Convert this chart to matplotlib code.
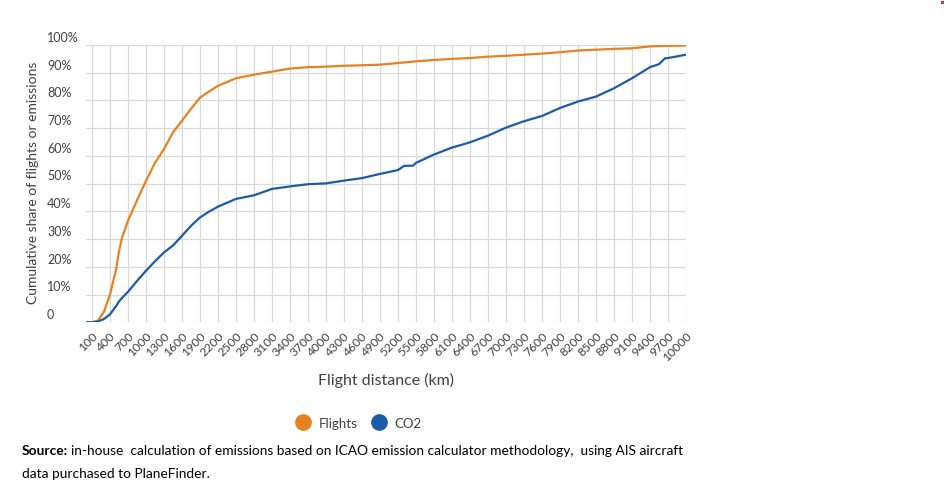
import matplotlib
matplotlib.use("Agg")
import matplotlib.pyplot as plt
from matplotlib.lines import Line2D
from matplotlib.patches import Rectangle
import matplotlib.transforms as mtransforms

plt.rcParams['font.family'] = ['Lato', 'DejaVu Sans']

# Data
distance_km = [0, 100, 200, 300, 400, 500, 550, 600, 700, 850, 1000, 1150, 1300, 1450,
               1600, 1750, 1900, 2050, 2200, 2500, 2800, 3100, 3400, 3700, 4000, 4300,
               4600, 4900, 5200, 5300, 5450, 5500, 5800, 6100, 6400, 6700, 7000, 7300,
               7600, 7900, 8200, 8500, 8800, 9100, 9400, 9550, 9650, 9700, 10000]
flights_pct = [0, 0, 0.6, 3.8, 10, 19, 25.5, 30.5, 36.6, 44, 51, 57.5, 62.5, 68.5,
               72.7, 77, 81, 83.2, 85.3, 88, 89.3, 90.4, 91.5, 92, 92.2, 92.5,
               92.7, 92.9, 93.5, 93.7, 94, 94.1, 94.6, 95, 95.3, 95.8, 96.1, 96.5,
               96.9, 97.4, 98, 98.3, 98.6, 98.8, 99.5, 99.6, 99.7, 99.7, 99.8]
co2_pct = [0, 0, 0.3, 1.2, 2.9, 5.8, 7.5, 8.8, 11, 14.9, 18.6, 22, 25.2, 27.7,
           31.2, 34.8, 37.8, 39.9, 41.7, 44.5, 45.8, 48.1, 49, 49.8, 50.1, 51.1,
           52, 53.5, 54.9, 56.4, 56.5, 57.5, 60.5, 63, 64.9, 67.3, 70.2, 72.5,
           74.4, 77.3, 79.6, 81.4, 84.4, 88, 92, 93.1, 95.2, 95.3, 96.5]
x_ticks = list(range(100, 10001, 300))
y_ticks = [0, 10, 20, 30, 40, 50, 60, 70, 80, 90, 100]
y_labels = ['0', '10%', '20%', '30%', '40%', '50%', '60%', '70%', '80%', '90%', '100%']
series_names = ['Flights', 'CO2']

ORANGE = '#E8811F'
BLUE = '#1A5CA8'
GRID = '#D9D9D9'
TXT = '#404040'

W, H = 945, 485
fig = plt.figure(figsize=(W / 100, H / 100), dpi=100)
ax = fig.add_axes([86 / W, 1 - 323.3 / H, 600 / W, 277.3 / H])

ax.plot(distance_km, flights_pct, color=ORANGE, lw=1.6, solid_capstyle='round')
ax.plot(distance_km, co2_pct, color=BLUE, lw=1.6, solid_capstyle='round')

ax.set_xlim(0, 10000)
ax.set_ylim(0, 100)
ax.set_xticks(x_ticks)
ax.set_xticklabels([str(t) for t in x_ticks], rotation=45, ha='right', va='top',
                   rotation_mode='anchor', fontsize=8.8, color=TXT)
ax.set_yticks(y_ticks)
ax.set_yticklabels([])
ax.tick_params(axis='both', length=0)
ax.tick_params(axis='x', pad=5)
ax.grid(True, color=GRID, lw=0.9)
ax.set_axisbelow(True)
for s in ax.spines.values():
    s.set_visible(False)

# y tick labels: left aligned, sitting just above each gridline
trans = mtransforms.blended_transform_factory(fig.transFigure, ax.transData)
off = mtransforms.offset_copy(trans, fig=fig, x=0, y=3, units='points')
for v, lab in zip(y_ticks, y_labels):
    fig.text(47 / W, v, lab, transform=off, ha='left', va='baseline',
             fontsize=9, color=TXT)

fig.text(33 / W, 1 - 183 / H, 'Cumulative share of flights or emissions', rotation=90,
         ha='center', va='center', fontsize=10, color=TXT)
fig.text(386 / W, 1 - 380 / H, 'Flight distance (km)', ha='center', va='center',
         fontsize=11.5, color=TXT)

handles = [Line2D([], [], ls='none', marker='o', ms=11, color=ORANGE),
           Line2D([], [], ls='none', marker='o', ms=11, color=BLUE)]
fig.legend(handles, series_names, loc='center', bbox_to_anchor=(356 / W, 1 - 424 / H),
           ncol=2, frameon=False, fontsize=9.5, handletextpad=0.2, columnspacing=0.6,
           labelcolor=TXT)

SRC_FS = 9.9
t_bold = fig.text(22 / W, 1 - 451 / H, 'Source:', ha='left', va='center',
                  fontsize=SRC_FS, fontweight='bold', color='black')
renderer = fig.canvas.get_renderer()
bb = t_bold.get_window_extent(renderer=renderer)
fig.text((bb.x1 + 3) / W, 1 - 451 / H,
         'in-house  calculation of emissions based on ICAO emission calculator methodology,  using AIS aircraft',
         ha='left', va='center', fontsize=SRC_FS, color='black')
fig.text(22 / W, 1 - 474 / H, 'data purchased to PlaneFinder.', ha='left', va='center',
         fontsize=SRC_FS, color='black')

fig.patches.append(Rectangle((941 / W, 1 - 5 / H), 3 / W, 3 / H, transform=fig.transFigure,
                             facecolor='#E83030', edgecolor='none'))

fig.savefig('out.png', dpi=100)
